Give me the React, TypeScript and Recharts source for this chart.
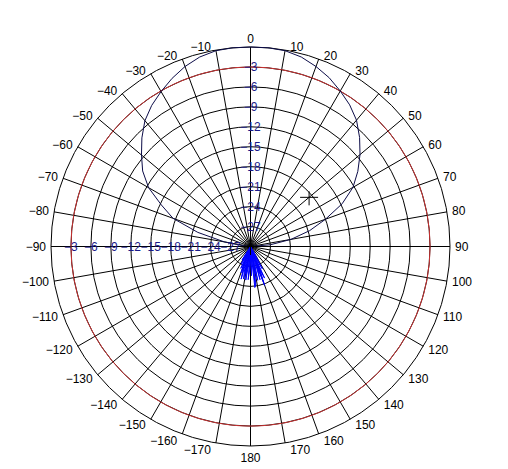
import { RadarChart, Radar, PolarGrid, PolarAngleAxis, PolarRadiusAxis } from "recharts";

// main lobe, read every 5 degrees (clockwise from top), in dB
const patternAngles = [
  0, 5, 10, 15, 20, 25, 30, 35, 40, 45, 50, 55, 60, 65, 70, 75, 80, 85, 90,
  95, 100, 105, 110, 115, 120, 125, 130, 135, 140, 145, 150, 155, 160, 165, 170, 175, 180,
  185, 190, 195, 200, 205, 210, 215, 220, 225, 230, 235, 240, 245, 250, 255, 260, 265,
  270, 275, 280, 285, 290, 295, 300, 305, 310, 315, 320, 325, 330, 335, 340, 345, 350, 355,
];
const patternDb = [
  0, 0, -0.1, -0.5, -1.2, -2.0, -3.0, -4.0, -5.2, -6.8, -8.5, -10.3, -12.2, -14.8, -18.0, -20.8, -23.8, -27.0, -30,
  -30, -30, -30, -30, -30, -30, -30, -30, -30, -30, -30, -30, -30, -30, -30, -30, -30, -30,
  -30, -30, -30, -30, -30, -30, -30, -30, -30, -30, -30, -30, -30, -30, -30, -30, -30,
  -30, -29, -26, -21.8, -17.6, -15.2, -12.3, -10.2, -8.6, -6.9, -5.3, -4.1, -3.1, -2.1, -1.2, -0.5, -0.1, 0,
];

// noisy back lobe near the centre
const spikeAngles = [
  150, 152, 154, 156, 158, 160, 162, 164, 166, 168, 170, 172, 174, 176, 178, 180, 182,
  184, 186, 188, 190, 192, 194, 196, 198, 200, 202, 204, 206, 208, 210, 212, 214,
];
const spikeDb = [
  -28.5, -26.2, -27.5, -24.8, -26.2, -23.8, -26.5, -24.8, -27.5, -24.8, -27, -24.2, -23.8, -27, -25.6, -28.2, -26.5,
  -25, -27.2, -24.9, -26.5, -25, -26.2, -24.9, -26.5, -25.8, -27.5, -26.4, -28, -27, -28.6, -27.6, -29.3,
];

const angleTicks = [
  0, 10, 20, 30, 40, 50, 60, 70, 80, 90, 100, 110, 120, 130, 140, 150, 160, 170,
  180, 190, 200, 210, 220, 230, 240, 250, 260, 270, 280, 290, 300, 310, 320, 330, 340, 350,
];
const ringLabels = [-27, -24, -21, -18, -15, -12, -9, -6, -3];
const refRingDb = -3;
const cursorAngle = 50;
const cursorDb = -18.5;

const allAngles = Array.from(new Set([...patternAngles, ...spikeAngles])).sort((a, b) => a - b);
const table = allAngles.map((angle) => {
  const pi = patternAngles.indexOf(angle);
  const si = spikeAngles.indexOf(angle);
  return {
    angle,
    pattern: pi >= 0 ? patternDb[pi] : -30,
    spike: si >= 0 ? spikeDb[si] : -30,
    ref: refRingDb,
    cursor: angle === cursorAngle ? cursorDb : -30,
  };
});

const CX = 250.5;
const CY = 246.5;
const R = 199.5;
const font = "'Liberation Sans', Arial, sans-serif";
const fmt = (v: number) => (v < 0 ? "\u2212" + Math.abs(v) : String(v));

const AngleTick = (props: any) => {
  const a = props.payload.value;
  const t = (a * Math.PI) / 180;
  const s = Math.sin(t);
  const c = Math.cos(t);
  const px = CX + R * s;
  const py = CY - R * c;
  let x = px;
  let y = py;
  let anchor = "middle";
  if (Math.abs(s) < 0.01) {
    y = c > 0 ? py - 8 : py + 12;
  } else {
    anchor = s > 0 ? "start" : "end";
    x = s > 0 ? px + 5 : px - 5;
    y = c > 0 ? py - 3.5 * c : py - 7 * c;
  }
  const label = a <= 180 ? a : a - 360;
  return (
    <text x={x} y={y} textAnchor={anchor} dominantBaseline="central" fontSize={12} fontFamily={font} fill="#000">
      {fmt(label)}
    </text>
  );
};

const RingTick = (props: any) => {
  const v = props.payload.value;
  if (!ringLabels.includes(v)) return <g />;
  return (
    <text x={props.x} y={props.y} textAnchor="middle" dominantBaseline="central" fontSize={12} fontFamily={font} fill="#1a1a8a">
      {fmt(v)}
    </text>
  );
};

const renderCursor = (p: any) => {
  const key = `c-${p.index}`;
  if (!p.payload || p.payload.value <= -30) return <g key={key} />;
  return (
    <g key={key} stroke="#000" strokeWidth={1}>
      <line x1={p.cx - 9} y1={p.cy} x2={p.cx + 9} y2={p.cy} />
      <line x1={p.cx} y1={p.cy - 6} x2={p.cx} y2={p.cy + 8} />
    </g>
  );
};

const App = () => {
  return (
    <div style={{ position: "absolute", left: 0, top: 0, width: 508, height: 469, background: "#fff" }}>
      <RadarChart
        width={508}
        height={469}
        data={table}
        cx={CX}
        cy={CY}
        outerRadius={R}
        innerRadius={0}
        margin={{ top: 0, right: 0, bottom: 0, left: 0 }}
      >
        <PolarGrid gridType="circle" stroke="#000" strokeOpacity={1} polarAngles={angleTicks.map((a) => 90 - a)} />
        <PolarAngleAxis
          dataKey="angle"
          type="number"
          domain={[0, 360]}
          ticks={angleTicks}
          tick={AngleTick}
          tickLine={false}
          axisLine={false}
        />
        <PolarRadiusAxis angle={90} domain={[-30, 0]} tickCount={11} axisLine={false} tickLine={false} tick={RingTick} />
        <PolarRadiusAxis
          radiusAxisId="left"
          angle={180}
          domain={[-30, 0]}
          tickCount={11}
          axisLine={false}
          tickLine={false}
          tick={RingTick}
        />
        <Radar
          dataKey="ref"
          radiusAxisId="left"
          stroke="#c83232"
          fill="none"
          fillOpacity={0}
          isAnimationActive={false}
        />
        <Radar dataKey="spike" stroke="#0000ff" fill="#0000ff" fillOpacity={1} isAnimationActive={false} />
        <Radar dataKey="pattern" stroke="#0c0c48" fill="none" fillOpacity={0} isAnimationActive={false} />
        <Radar dataKey="cursor" stroke="none" fill="none" fillOpacity={0} dot={renderCursor} isAnimationActive={false} />
      </RadarChart>
    </div>
  );
};

export default App;
